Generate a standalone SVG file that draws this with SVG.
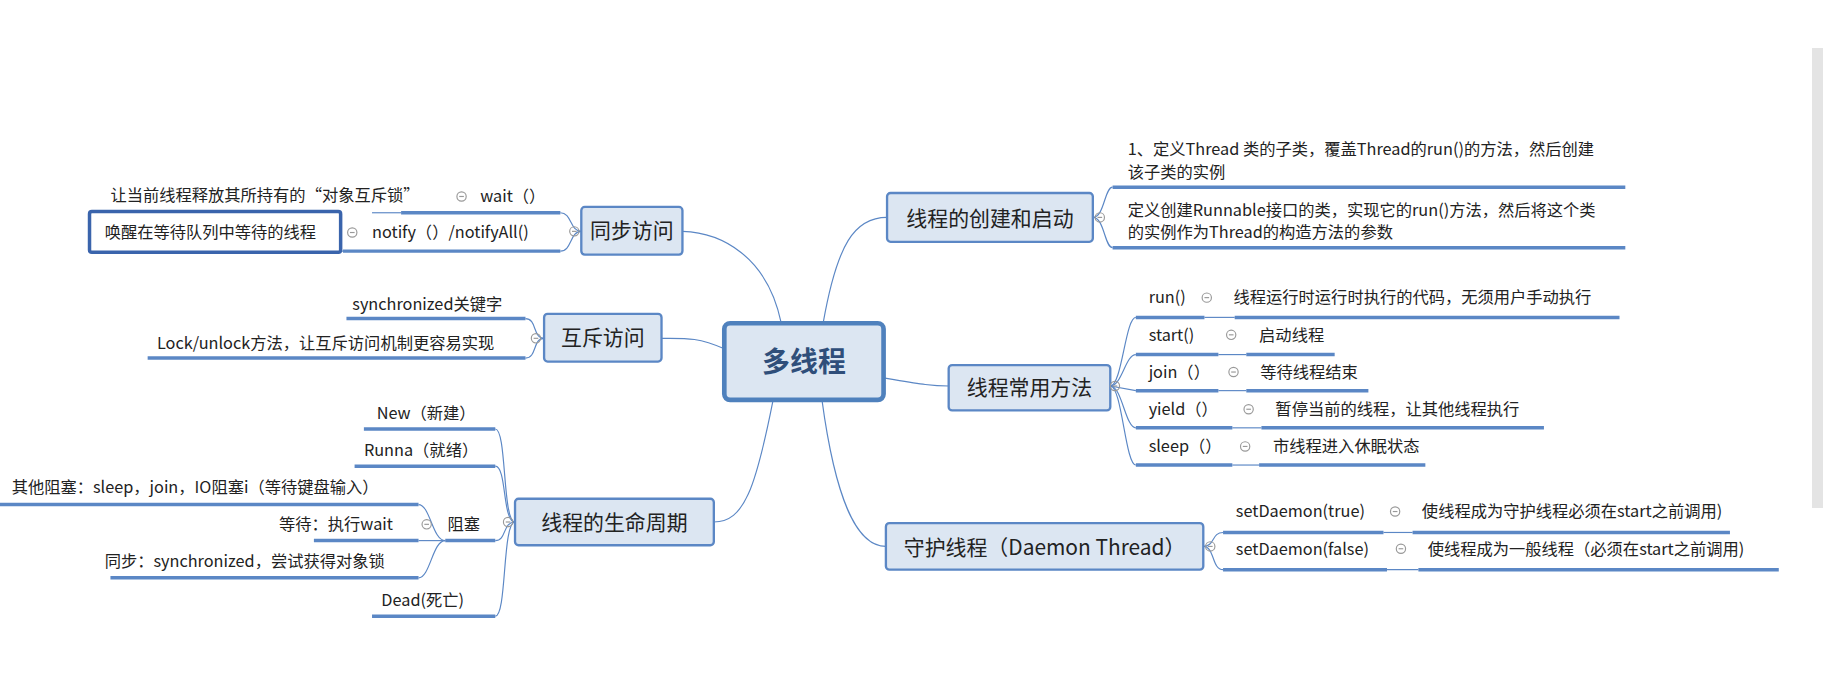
<svg xmlns="http://www.w3.org/2000/svg" width="1823" height="674" viewBox="0 0 1823 674">
<style>
text{font-family:"Microsoft YaHei","Noto Sans CJK SC","Liberation Sans",sans-serif;fill:#222}
.leaf{font-size:14px}
.node{font-size:18px;text-anchor:middle}
.box{fill:#dce6f2;stroke:#5b87c5;stroke-width:2}
.ul{stroke:#5b87c5;stroke-width:3;fill:none}
.c{stroke:#5b87c5;stroke-width:1;fill:none}
.t{fill:none;stroke:#999;stroke-width:1}
</style>
<defs>
<g id="tog"><circle r="4" class="t"/><line x1="-2" x2="2" class="t"/></g>
</defs>
<rect width="1823" height="674" fill="#fff"/>
<rect x="1812" y="48" width="11" height="460" fill="#e4e4e4"/>
<g transform="scale(1.1626)">
<g id="connectors">
<path class="c" d="M672,278 C660,220 620,200 587,199"/>
<path class="c" d="M623,300 C600,290 590,291 569,291"/>
<path class="c" d="M665,344 C650,420 640,449 614,449"/>
<path class="c" d="M708,278 C720,210 735,187 763,187"/>
<path class="c" d="M760,325 C790,330 800,332 816,332"/>
<path class="c" d="M707,344 C720,440 740,470 762,470"/>
<!-- 同步 -->
<path class="c" d="M500,199 C490,199 492,183 482,183"/>
<path class="c" d="M500,199 C490,199 492,216 482,216"/>
<!-- 互斥 -->
<path class="c" d="M468,291 C458,291 462,274 452,274"/>
<path class="c" d="M468,291 C458,291 462,308 452,308"/>
<!-- 生命周期 -->
<path class="c" d="M443,449 C432,449 436,369 426,369"/>
<path class="c" d="M443,449 C432,449 436,401 426,401"/>
<path class="c" d="M443,449 C432,449 436,465 426,465"/>
<path class="c" d="M443,449 C432,449 436,530 426,530"/>
<path class="c" d="M383,465 C372,465 370,434 360,434"/>
<path class="c" d="M383,465 L360,465"/>
<path class="c" d="M383,465 C372,465 370,497 360,497"/>
<!-- 创建 -->
<path class="c" d="M940,187 C950,187 950,161 957,161"/>
<path class="c" d="M940,187 C950,187 950,213 957,213"/>
<!-- 常用 -->
<path class="c" d="M955,332 C965,332 968,273 977,273"/>
<path class="c" d="M955,332 C965,332 968,305 977,305"/>
<path class="c" d="M955,332 L977,336"/>
<path class="c" d="M955,332 C965,332 968,368 977,368"/>
<path class="c" d="M955,332 C965,332 968,400 977,400"/>
<path class="c" d="M1036,273 L1062,273"/>
<path class="c" d="M1048,305 L1072,305"/>
<path class="c" d="M1048,336 L1072,336"/>
<path class="c" d="M1060,368 L1085,368"/>
<path class="c" d="M1060,400 L1083,400"/>
<!-- 守护 -->
<path class="c" d="M1035,470 C1045,470 1042,458 1052,458"/>
<path class="c" d="M1035,470 C1045,470 1042,490 1052,490"/>
<path class="c" d="M1190,458 L1215,458"/>
<path class="c" d="M1193,490 L1220,490"/>
<path class="c" d="M320,183 L345,183"/>
<path class="c" d="M270,216 L295,216"/>
</g>
<g id="center"><rect x="623" y="278" width="137" height="66" rx="5" fill="#dce6f2" stroke="#4f81bd" stroke-width="4"/><text x="691.5" y="320" text-anchor="middle" style="font-size:24px;font-weight:bold;fill:#2f4e7a">多线程</text></g>
<g id="n-sync"><rect class="box" x="500" y="178" width="87" height="41" rx="3"/><text class="node" x="543.5" y="205">同步访问</text><use href="#tog" x="494" y="199"/></g>
<g id="n-sync-wait"><text class="leaf" x="95" y="173">让当前线程释放其所持有的“对象互斥锁”</text><use href="#tog" x="397" y="169"/><text class="leaf" x="413" y="174">wait（）</text><path class="ul" d="M345,183 L482,183"/></g>
<g id="n-sync-notify"><rect x="77" y="182" width="216" height="35" rx="2" fill="#fff" stroke="#3a64ac" stroke-width="3"/><text class="leaf" x="90" y="205">唤醒在等待队列中等待的线程</text><use href="#tog" x="303" y="200"/><text class="leaf" x="320" y="205">notify（）/notifyAll()</text><path class="ul" d="M295,216 L482,216"/></g>
<g id="n-mutex"><rect class="box" x="468" y="270" width="101" height="41" rx="3"/><text class="node" x="518.5" y="297">互斥访问</text><use href="#tog" x="461" y="291"/></g>
<g id="n-mutex-1"><text class="leaf" x="303" y="267">synchronized关键字</text><path class="ul" d="M298,274 L452,274"/></g>
<g id="n-mutex-2"><text class="leaf" x="135" y="300">Lock/unlock方法，让互斥访问机制更容易实现</text><path class="ul" d="M127,308 L452,308"/></g>
<g id="n-life"><rect class="box" x="443" y="429" width="171" height="40" rx="3"/><text class="node" x="528.5" y="456">线程的生命周期</text><use href="#tog" x="437" y="449"/></g>
<g id="n-new"><text class="leaf" x="324" y="360">New（新建）</text><path class="ul" d="M313,369 L426,369"/></g>
<g id="n-runna"><text class="leaf" x="313" y="392">Runna（就绪）</text><path class="ul" d="M305,401 L426,401"/></g>
<g id="n-block"><use href="#tog" x="367" y="451"/><text class="leaf" x="385" y="456">阻塞</text><path class="ul" d="M383,465 L426,465"/></g>
<g id="n-b1"><text class="leaf" x="10" y="424">其他阻塞：sleep，join，IO阻塞i（等待键盘输入）</text><path class="ul" d="M0,434 L360,434"/></g>
<g id="n-b2"><text class="leaf" x="240" y="456">等待：执行wait</text><path class="ul" d="M270,465 L360,465"/></g>
<g id="n-b3"><text class="leaf" x="90" y="488">同步：synchronized，尝试获得对象锁</text><path class="ul" d="M95,497 L360,497"/></g>
<g id="n-dead"><text class="leaf" x="328" y="521">Dead(死亡)</text><path class="ul" d="M320,530 L426,530"/></g>
<g id="n-create"><rect class="box" x="763" y="166" width="177" height="42" rx="3"/><text class="node" x="851.5" y="194">线程的创建和启动</text><use href="#tog" x="946" y="187"/></g>
<g id="n-create-1"><text class="leaf" x="970" y="133">1、定义Thread 类的子类，覆盖Thread的run()的方法，然后创建</text><text class="leaf" x="970" y="153">该子类的实例</text><path class="ul" d="M957,161 L1398,161"/></g>
<g id="n-create-2"><text class="leaf" x="970" y="186">定义创建Runnable接口的类，实现它的run()方法，然后将这个类</text><text class="leaf" x="970" y="205">的实例作为Thread的构造方法的参数</text><path class="ul" d="M957,213 L1398,213"/></g>
<g id="n-methods"><rect class="box" x="816" y="314" width="139" height="39" rx="3"/><text class="node" x="885.5" y="340">线程常用方法</text><use href="#tog" x="959" y="332"/></g>
<g id="n-run"><text class="leaf" x="988" y="261">run()</text><use href="#tog" x="1038" y="256"/><text class="leaf" x="1061" y="261">线程运行时运行时执行的代码，无须用户手动执行</text><path class="ul" d="M977,273 L1036,273 M1062,273 L1393,273"/></g>
<g id="n-start"><text class="leaf" x="988" y="293">start()</text><use href="#tog" x="1059" y="288"/><text class="leaf" x="1083" y="293">启动线程</text><path class="ul" d="M977,305 L1048,305 M1072,305 L1148,305"/></g>
<g id="n-join"><text class="leaf" x="988" y="325">join（）</text><use href="#tog" x="1061" y="320"/><text class="leaf" x="1084" y="325">等待线程结束</text><path class="ul" d="M977,336 L1048,336 M1072,336 L1177,336"/></g>
<g id="n-yield"><text class="leaf" x="988" y="357">yield（）</text><use href="#tog" x="1074" y="352"/><text class="leaf" x="1097" y="357">暂停当前的线程，让其他线程执行</text><path class="ul" d="M977,368 L1060,368 M1085,368 L1328,368"/></g>
<g id="n-sleep"><text class="leaf" x="988" y="389">sleep（）</text><use href="#tog" x="1071" y="384"/><text class="leaf" x="1095" y="389">市线程进入休眠状态</text><path class="ul" d="M977,400 L1060,400 M1083,400 L1226,400"/></g>
<g id="n-daemon"><rect class="box" x="762" y="450" width="273" height="40" rx="3"/><text class="node" x="898.5" y="477">守护线程（Daemon Thread）</text><use href="#tog" x="1041" y="470"/></g>
<g id="n-d1"><text class="leaf" x="1063" y="445">setDaemon(true)</text><use href="#tog" x="1200" y="440"/><text class="leaf" x="1223" y="445">使线程成为守护线程必须在start之前调用)</text><path class="ul" d="M1052,458 L1190,458 M1215,458 L1488,458"/></g>
<g id="n-d2"><text class="leaf" x="1063" y="477">setDaemon(false)</text><use href="#tog" x="1205" y="472"/><text class="leaf" x="1228" y="477">使线程成为一般线程（必须在start之前调用)</text><path class="ul" d="M1052,490 L1193,490 M1220,490 L1530,490"/></g>
</g>
</svg>
